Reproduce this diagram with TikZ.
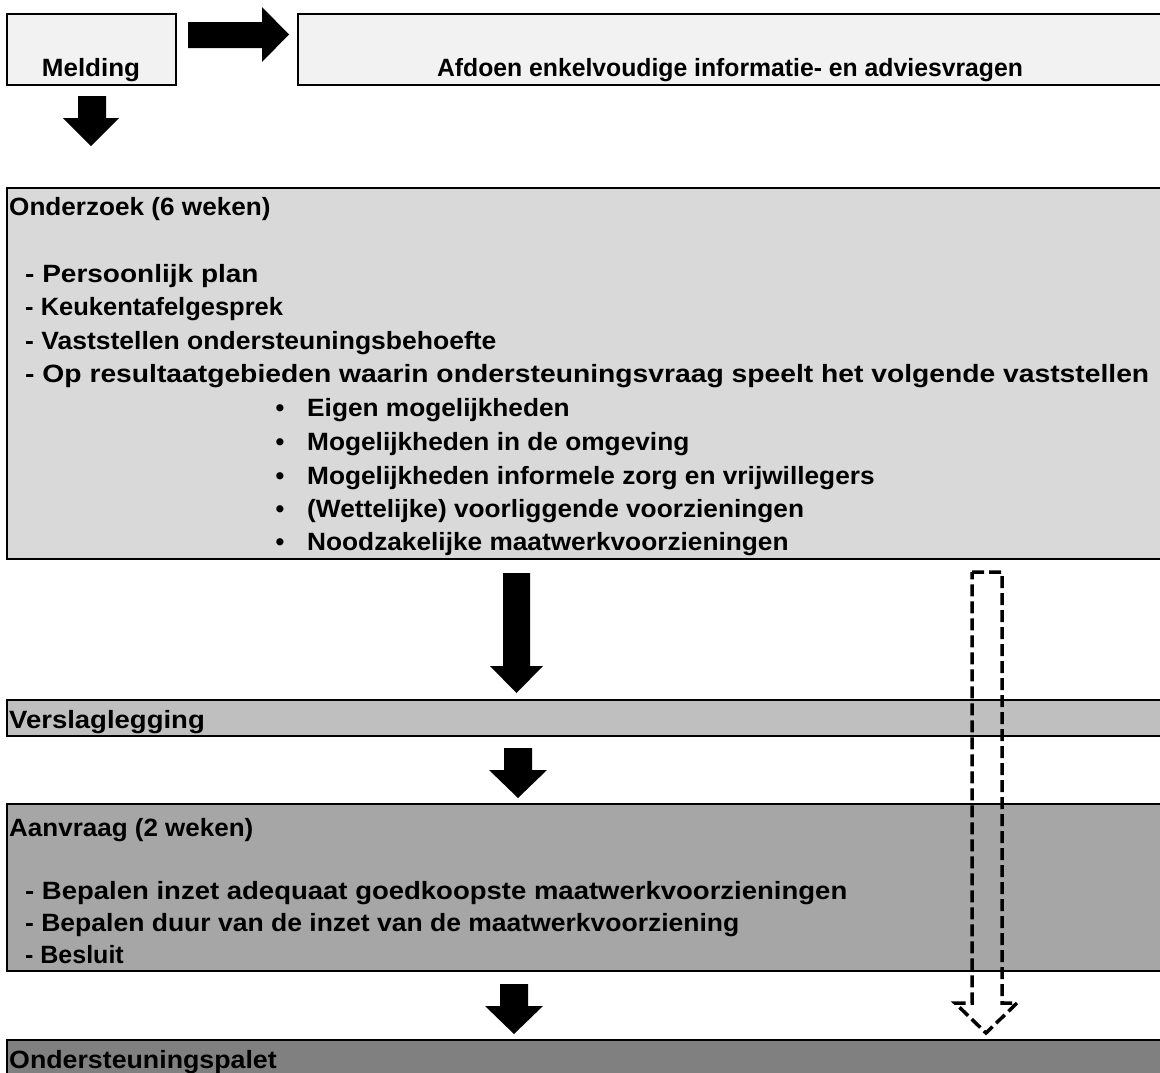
\documentclass[tikz,border=0pt]{standalone}
\usepackage{fontspec}
\setmainfont{Liberation Sans}
\tikzset{
  box/.style={draw=black, line width=2bp, rectangle, inner sep=0pt, anchor=north west},
  txt/.style={anchor=base west, inner sep=0pt, font=\bfseries\fontsize{25bp}{33.5bp}\selectfont},
  ctxt/.style={anchor=base, inner sep=0pt, font=\bfseries\fontsize{25bp}{33.5bp}\selectfont},
  blockarrow/.style={fill=black, draw=none},
  dasharrow/.style={draw=black, line width=3.5bp, dash pattern=on 12bp off 5bp, line join=miter}
}
\newcommand\SX[2]{\scalebox{#1}[1]{#2}}
\newcommand\dnarrow[7]{\fill[blockarrow] (#1,#3) -- (#2,#3) -- (#2,#4) -- (#6,#4) -- ({(#5+#6)/2},#7) -- (#5,#4) -- (#1,#4) -- cycle;}
\begin{document}
\begin{tikzpicture}[x=1bp,y=-1bp]
\useasboundingbox (0,0) rectangle (1160,1073);
\clip (0,0) rectangle (1160,1073);
% boxes
\node[box, fill={rgb,255:red,242;green,242;blue,242}, minimum width=169bp, minimum height=71bp] (melding) at (6,13) {};
\node[box, fill={rgb,255:red,242;green,242;blue,242}, minimum width=870bp, minimum height=71bp] (afdoen) at (297,13) {};
\node[box, fill={rgb,255:red,217;green,217;blue,217}, minimum width=1165bp, minimum height=371bp] (onderzoek) at (6,187) {};
\node[box, fill={rgb,255:red,191;green,191;blue,191}, minimum width=1165bp, minimum height=36bp] (verslag) at (6,699) {};
\node[box, fill={rgb,255:red,166;green,166;blue,166}, minimum width=1165bp, minimum height=167bp] (aanvraag) at (6,803) {};
\node[box, fill={rgb,255:red,128;green,128;blue,128}, minimum width=1165bp, minimum height=60bp] (palet) at (6,1039) {};
% texts
\node[ctxt] (tmelding) at (91,76) {\SX{1.04}{Melding}};
\node[ctxt] (tafdoen) at (730,76) {\SX{0.99}{Afdoen enkelvoudige informatie- en adviesvragen}};
\node[txt] (tonderzoek) at (9,215) {\SX{1.045}{Onderzoek (6 weken)}};
\node[txt] (o1) at (25,282) {\SX{1.12}{- Persoonlijk plan}};
\node[txt] (o2) at (25,315) {\SX{1.02}{- Keukentafelgesprek}};
\node[txt] (o3) at (25,349) {\SX{1.06}{- Vaststellen ondersteuningsbehoefte}};
\node[txt] (o4) at (25,382) {\SX{1.13}{- Op resultaatgebieden waarin ondersteuningsvraag speelt het volgende vaststellen}};
\foreach \y/\t [count=\i] in {416/Eigen mogelijkheden, 450/Mogelijkheden in de omgeving, 484/Mogelijkheden informele zorg en vrijwillegers, 517/(Wettelijke) voorliggende voorzieningen, 550/Noodzakelijke maatwerkvoorzieningen}{
  \node[ctxt] (b\i) at (280,\y) {•};
  \node[txt] (bt\i) at (307,\y) {\SX{1.05}{\t}};
}
\node[txt] (tverslag) at (9,728) {\SX{1.1}{Verslaglegging}};
\node[txt] (taanvraag) at (9,836) {\SX{1.04}{Aanvraag (2 weken)}};
\node[txt] (a1) at (25,899) {\SX{1.1}{- Bepalen inzet adequaat goedkoopste maatwerkvoorzieningen}};
\node[txt] (a2) at (25,931) {\SX{1.06}{- Bepalen duur van de inzet van de maatwerkvoorziening}};
\node[txt] (a3) at (25,963) {\SX{1.0}{- Besluit}};
\node[txt] (tpalet) at (9,1068) {\SX{1.07}{Ondersteuningspalet}};
% block arrows
\fill[blockarrow] (188,22) -- (262,22) -- (262,7) -- (289,34.5) -- (262,62) -- (262,48) -- (188,48) -- cycle;
\dnarrow{78}{106}{96}{118}{63}{119}{146}
\dnarrow{503}{530}{573}{666}{490}{543}{693}
\dnarrow{504}{532}{748}{770}{489}{547}{798}
\dnarrow{500}{528}{984}{1006}{485}{543}{1034}
% dashed arrow
\draw[dasharrow] (972,572) -- (1002,572) -- (1002,1003) -- (1017,1003) -- (986,1033) -- (955,1003) -- (972,1003) -- cycle;
\end{tikzpicture}
\end{document}
